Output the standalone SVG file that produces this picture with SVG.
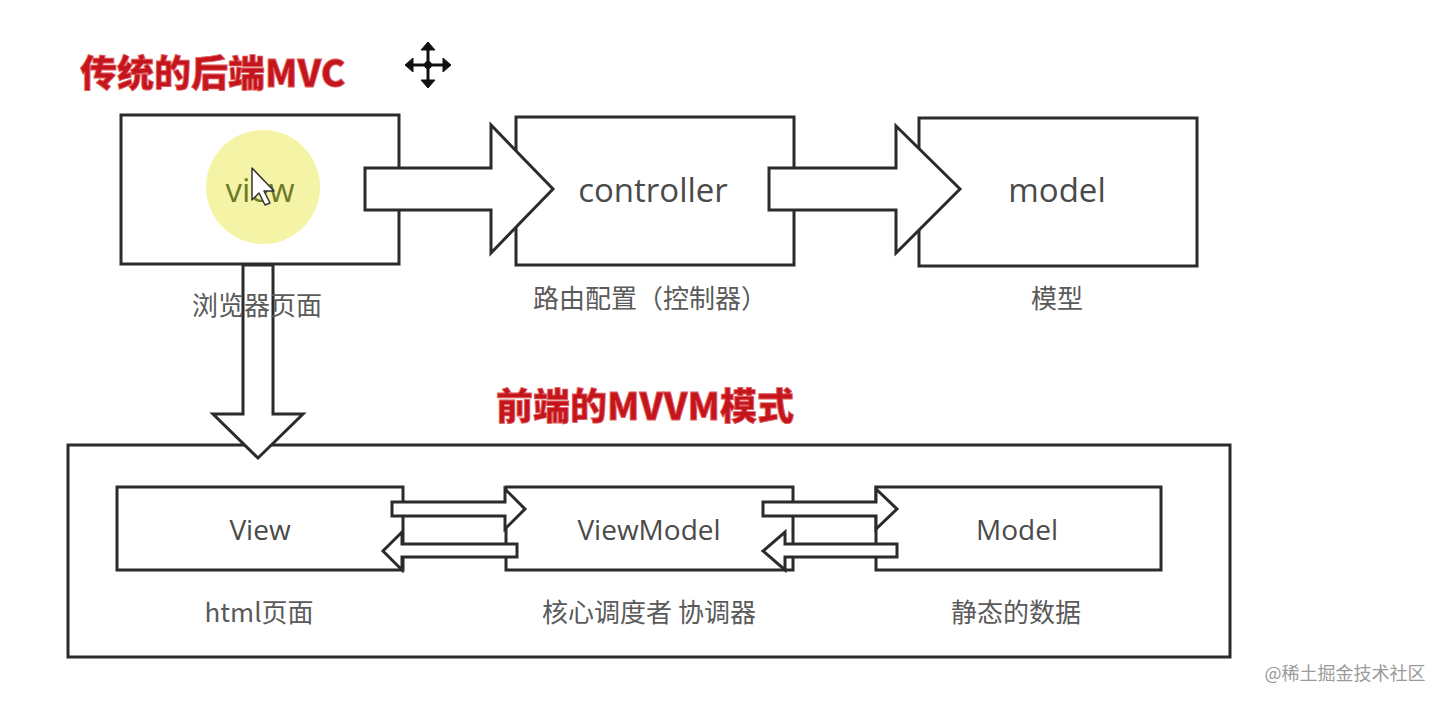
<svg xmlns="http://www.w3.org/2000/svg" width="1446" height="704" viewBox="0 0 1446 704">
<style>
.box{fill:#fff;stroke:#2b2b2b;stroke-width:3}
.arr{fill:#fff;stroke:#2b2b2b;stroke-width:3;stroke-linejoin:miter}
.t{font-family:"Open Sans","Noto Sans","Noto Sans CJK SC",sans-serif;text-anchor:middle;fill:#4a4a4a}
.big{font-size:33px}
.mid{font-size:28px}
.cn{font-family:"Noto Sans CJK SC",sans-serif;font-size:26px;fill:#5a5a5a;text-anchor:middle}
.title{font-family:"Noto Sans CJK SC",sans-serif;font-weight:900;font-size:37px;fill:#c4151d;stroke:#e06060;stroke-width:0.8}
</style>
<rect width="1446" height="704" fill="#fff"/>
<text class="title" x="80" y="87">传统的后端MVC</text>
<text class="title" x="496" y="420">前端的MVVM模式</text>
<g id="move-icon" fill="#111" stroke="#111">
<line x1="412" y1="65" x2="444" y2="65" stroke-width="3"/>
<line x1="428" y1="49" x2="428" y2="81" stroke-width="3"/>
<polygon points="405,65 413,58 413,72" stroke-width="1"/>
<polygon points="451,65 443,58 443,72" stroke-width="1"/>
<polygon points="428,42 421,50 435,50" stroke-width="1"/>
<polygon points="428,88 421,80 435,80" stroke-width="1"/>
<circle cx="428" cy="65" r="3.5"/>
</g>
<g id="node-view-top">
<rect class="box" x="121" y="115" width="278" height="149"/>
<circle cx="263" cy="187" r="57" fill="#f4f39c" opacity="0.9"/>
<text class="t big" x="260" y="202" style="fill:#6e7a28">view</text>
<polygon points="252,168 252,200 259,193 265,205 270,203 264,191 274,191" fill="#fff" stroke="#333" stroke-width="1.5" stroke-linejoin="round"/>
</g>
<g id="node-controller">
<rect class="box" x="516" y="117" width="278" height="148"/>
<text class="t big" x="653" y="202">controller</text>
<text class="cn" x="650" y="308">路由配置（控制器）</text>
</g>
<g id="node-model-top">
<rect class="box" x="919" y="118" width="278" height="148"/>
<text class="t big" x="1057" y="202">model</text>
<text class="cn" x="1057" y="308">模型</text>
</g>
<g id="node-mvvm">
<rect class="box" x="68" y="445" width="1162" height="212"/>
</g>
<g id="node-View">
<rect class="box" x="117" y="487" width="286" height="83"/>
<text class="t mid" x="260" y="540">View</text>
<text class="cn" x="259" y="622">html页面</text>
</g>
<g id="node-ViewModel">
<rect class="box" x="506" y="487" width="287" height="83"/>
<text class="t mid" x="649" y="540">ViewModel</text>
<text class="cn" x="649" y="622">核心调度者 协调器</text>
</g>
<g id="node-Model">
<rect class="box" x="876" y="487" width="285" height="83"/>
<text class="t mid" x="1017" y="540">Model</text>
<text class="cn" x="1016" y="622">静态的数据</text>
</g>
<g id="connectors">
<polygon class="arr" points="365,168 491,168 491,125 553,189 491,253 491,210 365,210"/>
<polygon class="arr" points="769,168 896,168 896,126 960,189 896,253 896,210 769,210"/>
<polygon class="arr" points="243,265 273,265 273,414 303,414 258,458 213,414 243,414"/>
<polygon class="arr" points="392,502 505,502 505,489 525,509 505,529 505,516 392,516"/>
<polygon class="arr" points="517,544 402,544 402,532 383,551 402,570 402,557 517,557"/>
<polygon class="arr" points="763,502 876,502 876,489 897,509 876,529 876,516 763,516"/>
<polygon class="arr" points="897,544 785,544 785,532 763,551 785,570 785,557 897,557"/>
</g>
<g id="label-view-top">
<text class="cn" x="257" y="315">浏览器页面</text>
</g>
<text x="1345" y="680" style="font-family:'Noto Sans CJK SC',sans-serif;font-size:18px;fill:#9a9a9a;text-anchor:middle">@稀土掘金技术社区</text>
</svg>
